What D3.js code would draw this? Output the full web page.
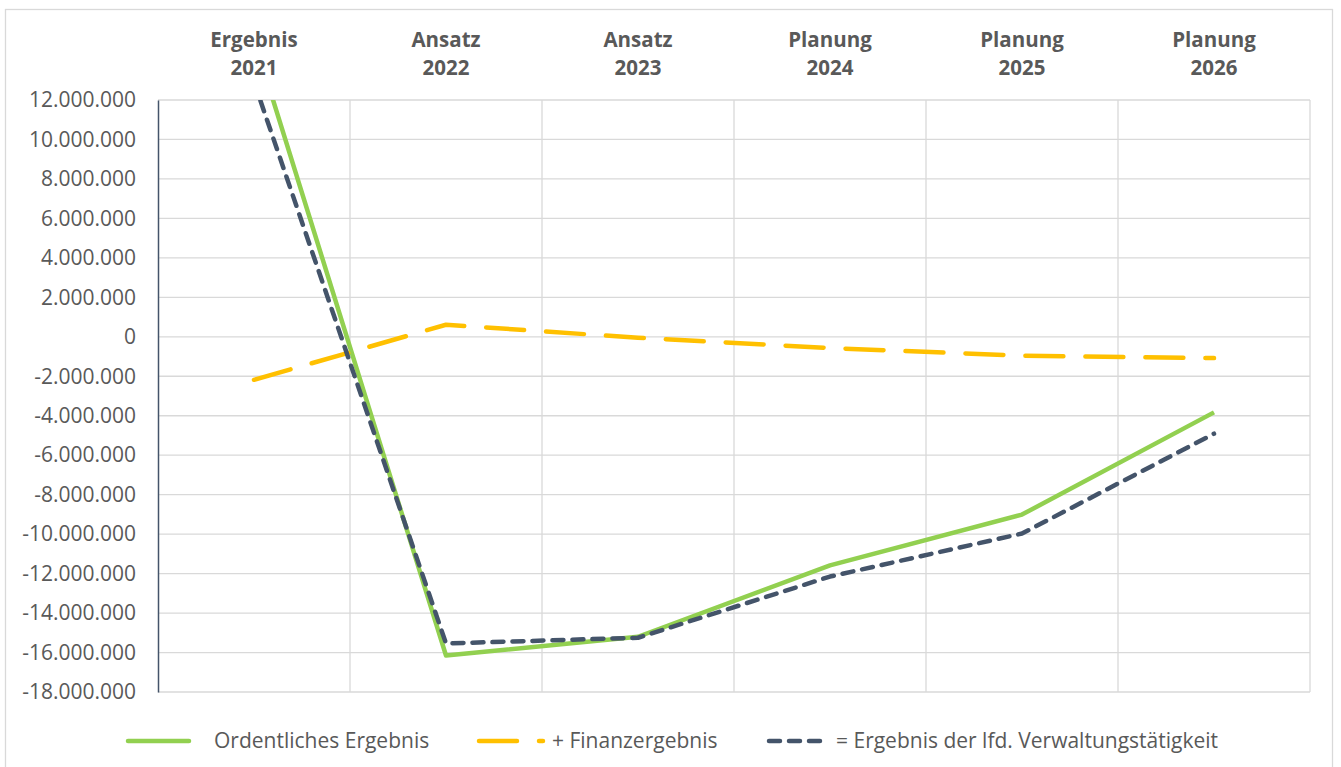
<!DOCTYPE html>
<html>
<head>
<meta charset="utf-8">
<script src="https://cdn.jsdelivr.net/npm/d3@7"></script>
<style>
  html, body { margin: 0; padding: 0; background: #fff; }
  svg { display: block; }
  text { font-family: "Open Sans", "Noto Sans", sans-serif; fill: #595959; }
</style>
</head>
<body>
<svg id="chart" width="1341" height="767"></svg>
<script>
// Kategorien (zweizeilige Überschriften)
const categories = ["Ergebnis 2021", "Ansatz 2022", "Ansatz 2023", "Planung 2024", "Planung 2025", "Planung 2026"];
const categoryLines = [["Ergebnis", "2021"], ["Ansatz", "2022"], ["Ansatz", "2023"], ["Planung", "2024"], ["Planung", "2025"], ["Planung", "2026"]];

// Werte in Euro
const ordentlichesErgebnis = [15100000, -16150000, -15200000, -11580000, -9010000, -3830000];
const finanzergebnis = [-2180000, 610000, -50000, -570000, -960000, -1080000];
const ergebnisVerwaltung = [12920000, -15540000, -15250000, -12150000, -9970000, -4910000];

const yTicks = [12000000, 10000000, 8000000, 6000000, 4000000, 2000000, 0, -2000000, -4000000, -6000000, -8000000, -10000000, -12000000, -14000000, -16000000, -18000000];

const seriesNames = ["Ordentliches Ergebnis", "+ Finanzergebnis", "= Ergebnis der lfd. Verwaltungstätigkeit"];

const series = [
  { name: seriesNames[0], values: ordentlichesErgebnis, color: "#92D050", dash: null },
  { name: seriesNames[1], values: finanzergebnis, color: "#FFC000", dash: "38,22" },
  { name: seriesNames[2], values: ergebnisVerwaltung, color: "#44546A", dash: "11,9" }
];

const svg = d3.select("#chart");
const plot = { left: 158, right: 1310, top: 100, bottom: 692 };

// Rahmen um das Diagramm
svg.append("rect")
  .attr("x", 5.5).attr("y", 9.5)
  .attr("width", 1327).attr("height", 770)
  .attr("fill", "none").attr("stroke", "#d9d9d9").attr("stroke-width", 1.3);

const x = d3.scaleBand().domain(categories).range([plot.left, plot.right]).padding(0);
const y = d3.scaleLinear().domain([-18000000, 12000000]).range([plot.bottom, plot.top]);

const fmt = v => d3.format(",")(v).replace(/,/g, ".").replace("−", "-");

// horizontale Gitterlinien
svg.append("g")
  .selectAll("line").data(yTicks).join("line")
  .attr("x1", plot.left).attr("x2", plot.right)
  .attr("y1", d => y(d)).attr("y2", d => y(d))
  .attr("stroke", "#d9d9d9").attr("stroke-width", 1.3);

// vertikale Gitterlinien an den Kategoriegrenzen
svg.append("g")
  .selectAll("line").data(categories).join("line")
  .attr("x1", d => x(d) + x.bandwidth()).attr("x2", d => x(d) + x.bandwidth())
  .attr("y1", plot.top).attr("y2", plot.bottom)
  .attr("stroke", "#d9d9d9").attr("stroke-width", 1.3);

// y-Achse
const yAxis = d3.axisLeft(y).tickValues(yTicks).tickFormat(fmt).tickSize(0).tickPadding(22);
const gy = svg.append("g").attr("transform", `translate(${plot.left},0)`).call(yAxis);
gy.select(".domain").attr("stroke", "#44546A").attr("stroke-width", 1.5);
gy.selectAll("text").style("font-size", "21px").attr("fill", "#595959");

// Kategorieüberschriften oben
const cat = svg.append("g").selectAll("text").data(categories).join("text")
  .attr("x", d => x(d) + x.bandwidth() / 2)
  .attr("text-anchor", "middle")
  .style("font-size", "20.5px").style("font-weight", "bold");
cat.each(function(d, i) {
  const t = d3.select(this);
  t.append("tspan").attr("x", x(d) + x.bandwidth() / 2).attr("y", 47).text(categoryLines[i][0]);
  t.append("tspan").attr("x", x(d) + x.bandwidth() / 2).attr("y", 75).text(categoryLines[i][1]);
});

// Linien, auf den Zeichenbereich beschnitten
svg.append("clipPath").attr("id", "plotclip")
  .append("rect").attr("x", plot.left).attr("y", plot.top)
  .attr("width", plot.right - plot.left).attr("height", plot.bottom - plot.top);

const line = d3.line()
  .x((d, i) => x(categories[i]) + x.bandwidth() / 2)
  .y(d => y(d));

const lines = svg.append("g").attr("clip-path", "url(#plotclip)");
series.forEach(s => {
  lines.append("path")
    .datum(s.values)
    .attr("d", line)
    .attr("fill", "none")
    .attr("stroke", s.color)
    .attr("stroke-width", 4.5)
    .attr("stroke-linecap", s.dash ? "round" : "butt")
    .attr("stroke-linejoin", "round")
    .attr("stroke-dasharray", s.dash);
});

// Legende
const legendY = 741;
const legendItems = [
  { s: series[0], x1: 128, x2: 189, tx: 214 },
  { s: series[1], x1: 479, x2: 543, tx: 552 },
  { s: series[2], x1: 769, x2: 820, tx: 836 }
];
const lg = svg.append("g");
legendItems.forEach(it => {
  lg.append("line")
    .attr("x1", it.x1).attr("x2", it.x2).attr("y1", legendY).attr("y2", legendY)
    .attr("stroke", it.s.color).attr("stroke-width", 4.5)
    .attr("stroke-linecap", "round")
    .attr("stroke-dasharray", it.s.dash);
  lg.append("text")
    .attr("x", it.tx).attr("y", legendY)
    .attr("dy", "0.35em")
    .style("font-size", "21px")
    .text(it.s.name);
});
</script>
</body>
</html>
